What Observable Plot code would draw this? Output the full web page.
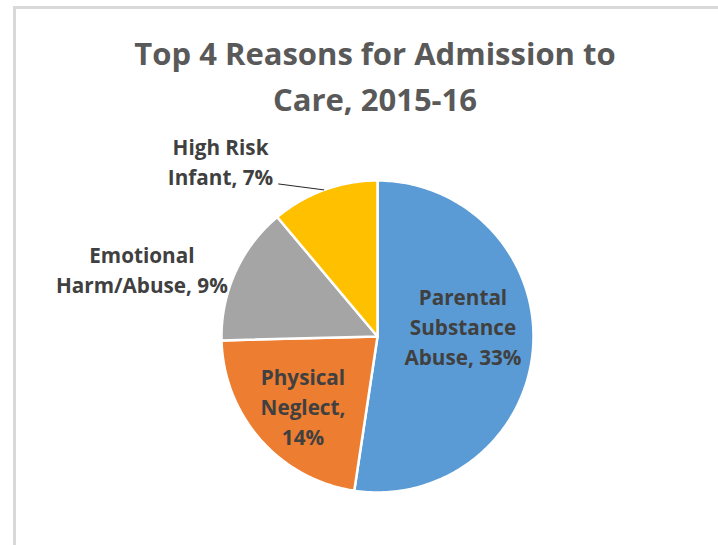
<!DOCTYPE html>
<html><head><meta charset="utf-8">
<script src="https://cdn.jsdelivr.net/npm/d3@7"></script>
<script src="https://cdn.jsdelivr.net/npm/@observablehq/plot@0.6"></script>
<style>
body{margin:0;background:#fff;}
#wrap{position:relative;width:718px;height:545px;overflow:hidden;background:#fff;font-family:"Open Sans",sans-serif;}
#frame{position:absolute;left:13px;top:6px;right:-10px;bottom:-10px;border-left:3px solid #d9d9d9;border-top:3px solid #d9d9d9;}
#title{position:absolute;left:32px;width:686px;top:30px;text-align:center;font-weight:bold;font-size:31px;line-height:46px;color:#595959;white-space:nowrap;}
#chart{position:absolute;left:0;top:120px;}
</style></head>
<body><div id="wrap"><div id="frame"></div><div id="title"></div><div id="chart"></div></div>
<script>
// ---- data ----
const titleLines = ["Top 4 Reasons for Admission to", "Care, 2015-16"];
const categories = ["Parental Substance Abuse", "Physical Neglect", "Emotional Harm/Abuse", "High Risk Infant"];
const values = [33, 14, 9, 7];
const labels = ["Parental\nSubstance\nAbuse, 33%", "Physical\nNeglect,\n14%", "Emotional\nHarm/Abuse, 9%", "High Risk\nInfant, 7%"];
const colors = ["#5B9BD5", "#ED7D31", "#A5A5A5", "#FFC000"];

// ---- layout ----
const W = 718, H = 425, CX = 377, CY = 216, R = 156;
const FONT = "'Open Sans', sans-serif";
const FS = 20.7, LH = 1.45;
const labelLayout = [
  {mode: "inside", r: 0.62, dx: -11, dy: -18},
  {mode: "inside", r: 0.62, dx: -2, dy: 5},
  {mode: "outside", r: 1.06, dx: 1, dy: 0},
  {mode: "callout", r: 1.0, dx: -5, dy: -24}
];

document.getElementById("title").innerHTML = titleLines.join("<br>");

const ctx = document.createElement("canvas").getContext("2d");
ctx.font = `bold ${FS}px 'Open Sans'`;
const blockWidth = s => d3.max(s.split("\n"), l => ctx.measureText(l).width);

const data = categories.map((c, i) => ({category: c, value: values[i], label: labels[i]}));
const arcs = d3.pie().sort(null).value(d => d.value)(data);
const polar = (a, r) => ({x: r * Math.sin(a), y: r * Math.cos(a)});

const slicePts = arcs.flatMap(a => {
  const n = Math.max(2, Math.ceil((a.endAngle - a.startAngle) / (Math.PI / 180)));
  const pts = [{category: a.data.category, x: 0, y: 0}];
  for (let i = 0; i <= n; i++) {
    const t = a.startAngle + (a.endAngle - a.startAngle) * i / n;
    pts.push({category: a.data.category, ...polar(t, R)});
  }
  pts.push({category: a.data.category, x: 0, y: 0});
  return pts;
});

const lab = arcs.map((a, i) => {
  const mid = (a.startAngle + a.endAngle) / 2;
  const L = labelLayout[i];
  const p = polar(mid, R * L.r);
  return {...a.data, mid, L, px: p.x, py: p.y};
});
const inside = lab.filter(d => d.L.mode === "inside")
  .map(d => ({...d, x: d.px + d.L.dx, y: d.py - d.L.dy}));
const outside = lab.filter(d => d.L.mode === "outside")
  .map(d => ({...d, x: d.px + d.L.dx - blockWidth(d.label) / 2, y: d.py - d.L.dy}));
const callout = lab.filter(d => d.L.mode === "callout").map(d => {
  const p = polar(d.mid, R);
  const x2 = p.x - 46, y2 = p.y + 6;
  return {...d, x1: p.x, y1: p.y, x2, y2, x: x2 + d.L.dx - blockWidth(d.label) / 2, y: y2 - d.L.dy};
});

const textOpts = {fontSize: FS, fontWeight: "bold", fill: "#404040", lineHeight: LH, fontFamily: FONT, textAnchor: "middle", lineAnchor: "middle"};

const chart = Plot.plot({
  width: W, height: H, margin: 0,
  x: {domain: [-CX, W - CX], axis: null},
  y: {domain: [CY - H, CY], axis: null},
  color: {domain: categories, range: colors},
  marks: [
    Plot.line(slicePts, {x: "x", y: "y", z: "category", fill: "category", stroke: "white", strokeWidth: 2.5, strokeLinejoin: "round"}),
    Plot.text(inside, {x: "x", y: "y", text: "label", ...textOpts}),
    Plot.text(outside, {x: "x", y: "y", text: "label", ...textOpts}),
    Plot.link(callout, {x1: "x1", y1: "y1", x2: "x2", y2: "y2", stroke: "#262626", strokeWidth: 1}),
    Plot.text(callout, {x: "x", y: "y", text: "label", ...textOpts})
  ]
});
document.getElementById("chart").appendChild(chart);
</script>
</body></html>
